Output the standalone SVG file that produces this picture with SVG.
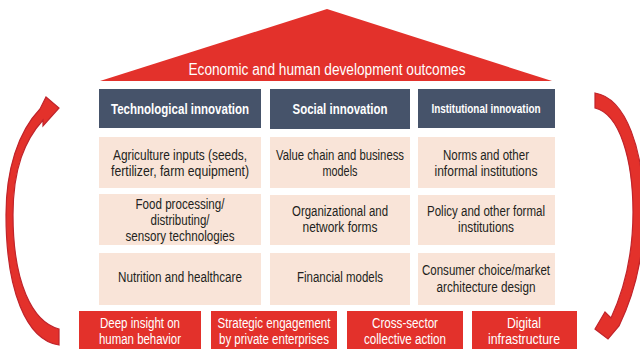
<svg xmlns="http://www.w3.org/2000/svg" width="640" height="353" viewBox="0 0 640 353">
<style>
.hd{fill:#46536A}
.bx{fill:#F9E4D8}
.rd{fill:#E3312B}
.arr{fill:#E3312B;stroke:#C0242B;stroke-width:1.2;stroke-linejoin:miter}
text{font-family:"Liberation Sans","Arial",sans-serif;text-anchor:middle}
.ht{fill:#FFFFFF;font-weight:bold;font-size:14px}
.bt{fill:#231F20;font-size:14px}
.wt{fill:#FFFFFF;font-size:14px}
</style>
<rect width="640" height="353" fill="#FFFFFF"/>
<g id="roof">
<polygon class="rd" points="327,9 552,81 100,81"/>
<text x="327" y="75" class="wt" style="font-size:16px" textLength="277" lengthAdjust="spacingAndGlyphs">Economic and human development outcomes</text>
</g>
<g id="tech-head"><rect class="hd" x="99" y="89" width="162" height="39"/><text class="ht" x="180" y="114" textLength="138" lengthAdjust="spacingAndGlyphs">Technological innovation</text></g>
<g id="social-head"><rect class="hd" x="270" y="89" width="140" height="40"/><text class="ht" x="340" y="114" textLength="95" lengthAdjust="spacingAndGlyphs">Social innovation</text></g>
<g id="inst-head"><rect class="hd" x="418" y="89" width="137" height="39"/><text class="ht" x="486" y="113" style="font-size:12.5px" textLength="109" lengthAdjust="spacingAndGlyphs">Institutional innovation</text></g>

<g id="tech-1"><rect class="bx" x="99" y="137" width="162" height="51"/><text class="bt" x="180" y="160" textLength="134" lengthAdjust="spacingAndGlyphs">Agriculture inputs (seeds,</text><text class="bt" x="180" y="176" textLength="138" lengthAdjust="spacingAndGlyphs">fertilizer, farm equipment)</text></g>
<g id="social-1"><rect class="bx" x="270" y="137" width="140" height="51"/><text class="bt" x="340" y="160" textLength="128" lengthAdjust="spacingAndGlyphs">Value chain and business</text><text class="bt" x="340" y="176" textLength="35" lengthAdjust="spacingAndGlyphs">models</text></g>
<g id="inst-1"><rect class="bx" x="418" y="137" width="137" height="51"/><text class="bt" x="486" y="160" textLength="86" lengthAdjust="spacingAndGlyphs">Norms and other</text><text class="bt" x="486" y="176" textLength="103" lengthAdjust="spacingAndGlyphs">informal institutions</text></g>

<g id="tech-2"><rect class="bx" x="99" y="194" width="162" height="51"/><text class="bt" x="180" y="209" textLength="89" lengthAdjust="spacingAndGlyphs">Food processing/</text><text class="bt" x="180" y="225" textLength="59" lengthAdjust="spacingAndGlyphs">distributing/</text><text class="bt" x="180" y="241" textLength="109" lengthAdjust="spacingAndGlyphs">sensory technologies</text></g>
<g id="social-2"><rect class="bx" x="270" y="195" width="140" height="50"/><text class="bt" x="340" y="216" textLength="96" lengthAdjust="spacingAndGlyphs">Organizational and</text><text class="bt" x="340" y="232" textLength="75" lengthAdjust="spacingAndGlyphs">network forms</text></g>
<g id="inst-2"><rect class="bx" x="418" y="195" width="137" height="50"/><text class="bt" x="486" y="216" textLength="118" lengthAdjust="spacingAndGlyphs">Policy and other formal</text><text class="bt" x="486" y="232" textLength="56" lengthAdjust="spacingAndGlyphs">institutions</text></g>

<g id="tech-3"><rect class="bx" x="99" y="253" width="162" height="52"/><text class="bt" x="180" y="282" textLength="124" lengthAdjust="spacingAndGlyphs">Nutrition and healthcare</text></g>
<g id="social-3"><rect class="bx" x="270" y="253" width="140" height="52"/><text class="bt" x="340" y="282" textLength="86" lengthAdjust="spacingAndGlyphs">Financial models</text></g>
<g id="inst-3"><rect class="bx" x="418" y="253" width="137" height="52"/><text class="bt" x="486" y="275" textLength="128" lengthAdjust="spacingAndGlyphs">Consumer choice/market</text><text class="bt" x="486" y="292" textLength="99" lengthAdjust="spacingAndGlyphs">architecture design</text></g>

<g id="enabler-1"><rect class="rd" x="79" y="311" width="122" height="38"/><text class="wt" x="140" y="328" textLength="80" lengthAdjust="spacingAndGlyphs">Deep insight on</text><text class="wt" x="140" y="344" textLength="82" lengthAdjust="spacingAndGlyphs">human behavior</text></g>
<g id="enabler-2"><rect class="rd" x="211" y="311" width="126" height="38"/><text class="wt" x="274" y="328" textLength="113" lengthAdjust="spacingAndGlyphs">Strategic engagement</text><text class="wt" x="274" y="344" textLength="110" lengthAdjust="spacingAndGlyphs">by private enterprises</text></g>
<g id="enabler-3"><rect class="rd" x="347" y="311" width="116" height="38"/><text class="wt" x="405" y="328" textLength="66" lengthAdjust="spacingAndGlyphs">Cross-sector</text><text class="wt" x="405" y="344" textLength="82" lengthAdjust="spacingAndGlyphs">collective action</text></g>
<g id="enabler-4"><rect class="rd" x="472" y="311" width="105" height="38"/><text class="wt" x="524" y="328" textLength="34" lengthAdjust="spacingAndGlyphs">Digital</text><text class="wt" x="524" y="344" textLength="72" lengthAdjust="spacingAndGlyphs">infrastructure</text></g>

<g id="connectors">
<path class="arr" d="M59,329 C32,322 13,282 13,215 C13,168 25,140 43,120 L43,126 L59,108 L46,97 L40,109 C18,132 6,170 6,215 C6,290 26,340 59,345 Z"/>
<path class="arr" d="M595,93 C626,98 644,150 644,212 C644,258 634,295 619,326 L608,339 L595,329 L605,312 L611,318 C624,290 633,256 633,212 C633,160 620,114 595,108 Z"/>
</g>
</svg>
